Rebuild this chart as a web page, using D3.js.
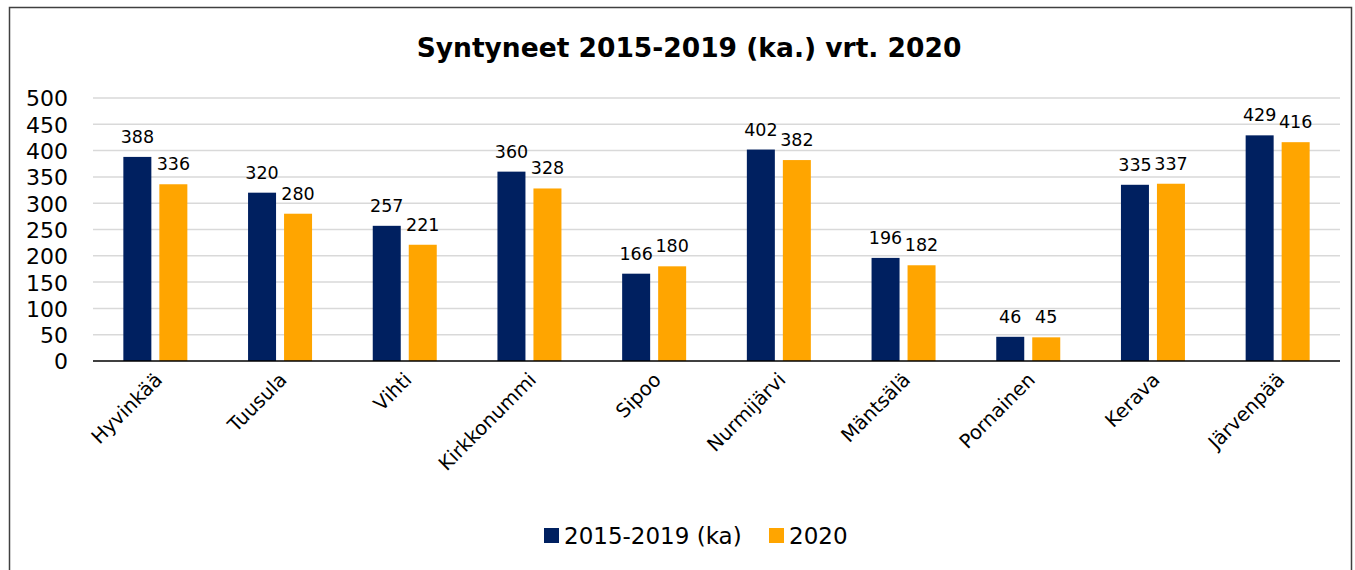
<!DOCTYPE html>
<html>
<head>
<meta charset="utf-8">
<script src="https://cdn.jsdelivr.net/npm/d3@7"></script>
<style>
  body { margin: 0; background: #fff; }
  text { font-family: "DejaVu Sans", Verdana, sans-serif; fill: #000; }
</style>
</head>
<body>
<div id="chart"></div>
<script>
var categories = ["Hyvinkää", "Tuusula", "Vihti", "Kirkkonummi", "Sipoo", "Nurmijärvi", "Mäntsälä", "Pornainen", "Kerava", "Järvenpää"];
var seriesNames = ["2015-2019 (ka)", "2020"];
var avg2015_2019 = [388, 320, 257, 360, 166, 402, 196, 46, 335, 429];
var val2020 = [336, 280, 221, 328, 180, 382, 182, 45, 337, 416];
var yTicks = [0, 50, 100, 150, 200, 250, 300, 350, 400, 450, 500];
var colors = ["#002060", "#FFA500"];

var W = 1355, H = 570;
var margin = { top: 98, right: 15, bottom: 209, left: 93 },
    width = W - margin.left - margin.right,
    height = H - margin.top - margin.bottom;

var svgRoot = d3.select("#chart")
    .append("svg")
    .attr("width", W)
    .attr("height", H);

// outer frame
svgRoot.append("rect")
    .attr("x", 9.5).attr("y", 7.5)
    .attr("width", 1342).attr("height", 600)
    .attr("fill", "#fff")
    .attr("stroke", "#404040")
    .attr("stroke-width", 1.5);

svgRoot.append("text")
    .attr("x", 689).attr("y", 57)
    .attr("text-anchor", "middle")
    .style("font-size", "26.5px")
    .style("font-weight", "bold")
    .text("Syntyneet 2015-2019 (ka.) vrt. 2020");

var svg = svgRoot.append("g")
    .attr("transform", "translate(" + margin.left + "," + margin.top + ")");

var data = categories.map(function (c, i) {
    return { cat: c, values: [avg2015_2019[i], val2020[i]] };
});

var x = d3.scaleBand().domain(categories).range([0, width]);
var y = d3.scaleLinear().domain([0, 500]).range([height, 0]);

var barW = 28, gap = 8;

// gridlines
svg.selectAll(".grid")
    .data(yTicks.filter(function (t) { return t > 0; }))
    .enter().append("line")
    .attr("x1", 0).attr("x2", width)
    .attr("y1", function (d) { return y(d); })
    .attr("y2", function (d) { return y(d); })
    .attr("stroke", "#d9d9d9")
    .attr("stroke-width", 1.5);

// y axis labels
var yAxis = svg.append("g")
    .call(d3.axisLeft(y).tickValues(yTicks).tickSize(0).tickPadding(25));
yAxis.select(".domain").remove();
yAxis.selectAll("text")
    .style("font-size", "22px")
    .attr("dy", "0.36em");

// bars
var groups = svg.selectAll(".cat")
    .data(data)
    .enter().append("g")
    .attr("transform", function (d) { return "translate(" + (x(d.cat) + x.bandwidth() / 2) + ",0)"; });

[0, 1].forEach(function (s) {
    var off = s === 0 ? -gap / 2 - barW : gap / 2;
    groups.append("rect")
        .attr("x", off)
        .attr("y", function (d) { return y(d.values[s]); })
        .attr("width", barW)
        .attr("height", function (d) { return height - y(d.values[s]); })
        .attr("fill", colors[s]);
    groups.append("text")
        .attr("x", off + barW / 2)
        .attr("y", function (d) { return y(d.values[s]) - 14; })
        .attr("text-anchor", "middle")
        .style("font-size", "17.5px")
        .text(function (d) { return d.values[s]; });
});

// baseline
svg.append("line")
    .attr("x1", 0).attr("x2", width)
    .attr("y1", height).attr("y2", height)
    .attr("stroke", "#000")
    .attr("stroke-width", 1.5);

// x labels
svg.selectAll(".xlab")
    .data(categories)
    .enter().append("text")
    .attr("text-anchor", "end")
    .style("font-size", "19.5px")
    .attr("transform", function (d) {
        return "translate(" + (x(d) + x.bandwidth() / 2 + 8) + "," + (height + 20) + ") rotate(-45)";
    })
    .text(function (d) { return d; });

// legend
var legend = svgRoot.append("g").attr("transform", "translate(544,536)");
var legX = [0, 225];
seriesNames.forEach(function (n, i) {
    legend.append("rect")
        .attr("x", legX[i]).attr("y", -8)
        .attr("width", 15).attr("height", 15)
        .attr("fill", colors[i]);
    legend.append("text")
        .attr("x", legX[i] + 20).attr("y", 8)
        .style("font-size", "23px")
        .text(n);
});
</script>
</body>
</html>
